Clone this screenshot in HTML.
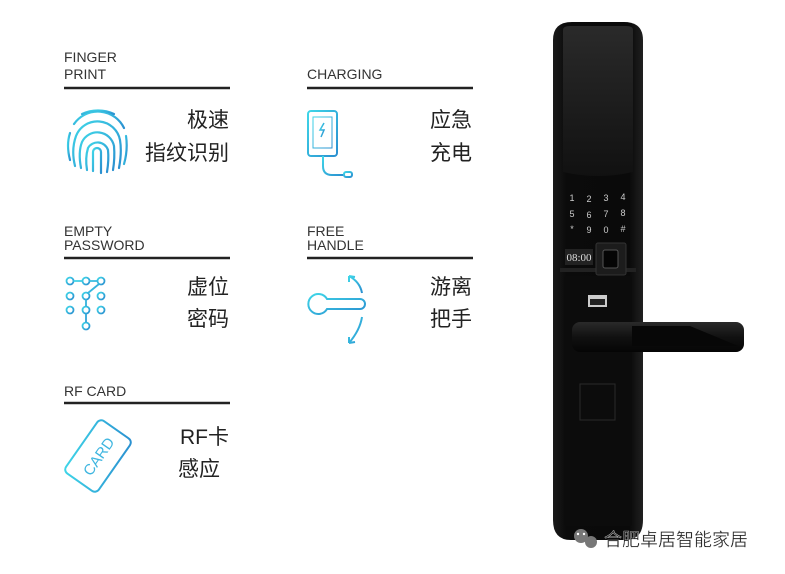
<!DOCTYPE html>
<html><head><meta charset="utf-8"><style>
body{margin:0;width:785px;height:574px;background:#fff;overflow:hidden;font-family:"Liberation Sans","Noto Sans CJK SC",sans-serif}
svg{position:absolute;left:0;top:0}
</style></head><body>
<svg width="785" height="574" viewBox="0 0 785 574" xmlns="http://www.w3.org/2000/svg">
<defs>
<linearGradient id="cy" x1="0" y1="0" x2="1" y2="1"><stop offset="0" stop-color="#3fd6e8"/><stop offset="1" stop-color="#2a8fd0"/></linearGradient>
<linearGradient id="lk" x1="0" y1="0" x2="1" y2="0"><stop offset="0" stop-color="#1a1a1a"/><stop offset="0.15" stop-color="#0b0b0b"/><stop offset="0.85" stop-color="#0a0a0a"/><stop offset="1" stop-color="#202020"/></linearGradient>
<linearGradient id="tp" x1="0" y1="0" x2="0" y2="1"><stop offset="0" stop-color="#2a2a2a"/><stop offset="1" stop-color="#111"/></linearGradient>
<linearGradient id="hd" x1="0" y1="0" x2="0" y2="1"><stop offset="0" stop-color="#2a2a2a"/><stop offset="0.5" stop-color="#111"/><stop offset="1" stop-color="#050505"/></linearGradient>
</defs>
<g font-family="Liberation Sans, sans-serif" font-size="14" fill="#333">
<text x="64" y="62">FINGER</text><text x="64" y="79">PRINT</text>
<text x="307" y="79">CHARGING</text>
<text x="64" y="236">EMPTY</text><text x="64" y="250">PASSWORD</text>
<text x="307" y="236">FREE</text><text x="307" y="250">HANDLE</text>
<text x="64" y="396">RF CARD</text>
</g>
<g stroke="#222" stroke-width="2.5">
<line x1="64" y1="88" x2="230" y2="88"/><line x1="307" y1="88" x2="473" y2="88"/>
<line x1="64" y1="258" x2="230" y2="258"/><line x1="307" y1="258" x2="473" y2="258"/>
<line x1="64" y1="403" x2="230" y2="403"/>
</g>
<g font-family="Liberation Sans, Noto Sans CJK SC, sans-serif" font-size="21" fill="#222" text-anchor="end">
<text x="229" y="127">极速</text><text x="229" y="160">指纹识别</text>
<text x="472" y="127">应急</text><text x="472" y="160">充电</text>
<text x="229" y="294">虚位</text><text x="229" y="326">密码</text>
<text x="472" y="294">游离</text><text x="472" y="326">把手</text>
<text x="229" y="444">RF卡</text><text x="220" y="476">感应</text>
</g>
<!-- fingerprint -->
<g fill="none" stroke="url(#cy)" stroke-width="2.2" stroke-linecap="round">
<path d="M70 160 Q66 145 70 133"/>
<path d="M74 124 A29 29 0 0 1 124 128"/>
<path d="M126 136 Q128 150 124 164"/>
<path d="M75 166 Q71 150 76 136 A23 23 0 0 1 120 140 Q122 152 119 168"/>
<path d="M81 168 Q78 152 82 142 A17 17 0 0 1 114 146 Q115 158 113 170"/>
<path d="M87 170 Q85 158 88 148 A11 11 0 0 1 108 150 Q109 160 107 172"/>
<path d="M93 171 L93 152 A4 4 0 0 1 101 152 L101 173"/>
<path d="M82 114 A28 20 0 0 1 114 114"/>
</g>
<!-- charging -->
<g fill="none" stroke="url(#cy)" stroke-width="2">
<rect x="308" y="111" width="29" height="45" rx="3"/>
<rect x="313" y="117" width="19" height="31" stroke-width="1"/>
<path d="M324 123 l-4 7 h4 l-3 7" stroke-width="1.5"/>
<path d="M323 156 v10 q0 9 9 9 h12"/>
<rect x="344" y="172" width="8" height="5" rx="2"/>
</g>
<!-- password grid -->
<g fill="none" stroke="url(#cy)" stroke-width="1.8">
<circle cx="70" cy="281" r="3.5"/><circle cx="86" cy="281" r="3.5"/><circle cx="101" cy="281" r="3.5"/>
<circle cx="70" cy="296" r="3.5"/><circle cx="86" cy="296" r="3.5"/><circle cx="101" cy="296" r="3.5"/>
<circle cx="70" cy="310" r="3.5"/><circle cx="86" cy="310" r="3.5"/><circle cx="101" cy="310" r="3.5"/>
<circle cx="86" cy="326" r="3.5"/>
<path d="M73.5 281 h9 M89.5 281 h8 M99 284 L88 293 M86 299.5 v7 M86 313.5 v9"/>
</g>
<!-- handle -->
<g fill="none" stroke="url(#cy)" stroke-width="2">
<path d="M327 299 h33 a5 5 0 0 1 0 10 h-33 a10 10 0 1 1 0 -10 z"/>
<path d="M362 293 Q360 282 349 276 M349 276 l0 6 M349 276 l6 1"/>
<path d="M362 317 Q360 330 349 343 M349 343 l0 -6 M349 343 l6 -1"/>
</g>
<!-- card -->
<g transform="translate(98 456) rotate(-55)">
<rect x="-32" y="-20" width="64" height="40" rx="5" fill="none" stroke="url(#cy)" stroke-width="2"/>
<text x="0" y="6" text-anchor="middle" font-family="Liberation Sans, sans-serif" font-size="15" fill="#3fb6e0">CARD</text>
</g>
<!-- lock -->
<path d="M553 40 Q553 22 572 22 L624 22 Q643 22 643 40 L643 520 Q643 540 625 540 L571 540 Q553 540 553 520 Z" fill="url(#lk)"/>
<path d="M563 30 Q563 26 570 26 L626 26 Q633 26 633 30 L633 172 Q598 180 563 172 Z" fill="url(#tp)"/>
<rect x="560" y="268" width="76" height="4" fill="#222"/>
<rect x="564" y="276" width="68" height="250" rx="3" fill="#0c0c0c"/>
<g font-family="Liberation Sans, sans-serif" font-size="9" fill="#ccc" text-anchor="middle">
<text x="572" y="201">1</text><text x="589" y="202">2</text><text x="606" y="201">3</text><text x="623" y="200">4</text>
<text x="572" y="217">5</text><text x="589" y="218">6</text><text x="606" y="217">7</text><text x="623" y="216">8</text>
<text x="572" y="232">*</text><text x="589" y="233">9</text><text x="606" y="233">0</text><text x="623" y="232">#</text>
</g>
<rect x="565" y="249" width="28" height="16" fill="#222"/>
<text x="579" y="261" text-anchor="middle" font-family="Liberation Serif, serif" font-size="11" fill="#ddd">08:00</text>
<rect x="596" y="243" width="30" height="32" rx="2" fill="#1c1c1c" stroke="#333"/>
<rect x="603" y="250" width="15" height="18" rx="2" fill="#050505" stroke="#555"/>
<rect x="588" y="295" width="19" height="12" fill="#ccc"/><rect x="590" y="299" width="15" height="6" fill="#222"/>
<rect x="580" y="384" width="35" height="36" fill="none" stroke="#2a2a2a"/>
<rect x="572" y="322" width="172" height="30" rx="8" fill="url(#hd)"/>
<path d="M632 326 L690 326 L738 346 L632 346 Z" fill="#070707"/>
<!-- watermark -->
<g fill="#777"><circle cx="581" cy="536" r="7"/><circle cx="591" cy="542" r="6" /></g>
<g fill="#fff"><circle cx="578" cy="534" r="1.2"/><circle cx="584" cy="534" r="1.2"/></g>
<text x="604" y="546" font-family="Liberation Sans, Noto Sans CJK SC, sans-serif" font-size="18" fill="#222" stroke="#fff" stroke-width="0.3">合肥卓居智能家居</text>
</svg>
</body></html>
